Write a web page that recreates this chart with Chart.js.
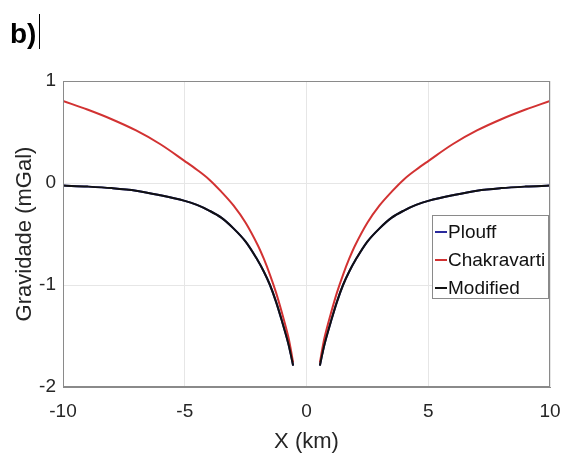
<!DOCTYPE html>
<html>
<head>
<meta charset="utf-8">
<script src="https://cdn.jsdelivr.net/npm/chart.js@4.4.1/dist/chart.umd.min.js"></script>
<style>
  html, body { margin: 0; padding: 0; background: #fff; }
  #wrap { width: 564px; height: 459px; position: relative; }
</style>
</head>
<body>
<div id="wrap"><canvas id="gravChart"></canvas></div>
<script>
// X positions (km); null value at 0 breaks the curves
const xKm = [-10, -9, -8, -7, -6, -5, -4.5, -4, -3.5, -3, -2.5, -2, -1.75, -1.5, -1.25, -1, -0.75, -0.65, -0.55,
             0,
             0.55, 0.65, 0.75, 1, 1.25, 1.5, 1.75, 2, 2.5, 3, 3.5, 4, 4.5, 5, 6, 7, 8, 9, 10];

const chakravarti = [0.805, 0.72, 0.625, 0.515, 0.38, 0.215, 0.13, 0.035, -0.085, -0.22, -0.39, -0.61, -0.745, -0.90, -1.075, -1.28, -1.505, -1.625, -1.76,
                     null,
                     -1.76, -1.625, -1.505, -1.28, -1.075, -0.90, -0.745, -0.61, -0.39, -0.22, -0.085, 0.035, 0.13, 0.215, 0.38, 0.515, 0.625, 0.72, 0.805];

const modified = [-0.025, -0.035, -0.05, -0.075, -0.12, -0.175, -0.215, -0.27, -0.34, -0.445, -0.575, -0.76, -0.87, -1.00, -1.165, -1.36, -1.57, -1.675, -1.79,
                  null,
                  -1.79, -1.675, -1.57, -1.36, -1.165, -1.00, -0.87, -0.76, -0.575, -0.445, -0.34, -0.27, -0.215, -0.175, -0.12, -0.075, -0.05, -0.035, -0.025];

// Plouff lies under the Modified curve
const plouff = modified.slice();

const xTicks = [-10, -5, 0, 5, 10];
const yTicks = [-2, -1, 0, 1];

function pts(vals) {
    return xKm.map((x, i) => ({ x: x, y: vals[i] }));
}

const legendItems = [
    { label: 'Plouff', color: '#2a2a9c' },
    { label: 'Chakravarti', color: '#d23232' },
    { label: 'Modified', color: '#111111' }
];

const extras = {
    id: 'extras',
    afterDraw(chart) {
        const ctx = chart.ctx;
        const a = chart.chartArea;
        ctx.save();
        // box around axes
        ctx.strokeStyle = '#8a8a8a';
        ctx.lineWidth = 1;
        ctx.strokeRect(a.left + 0.5, a.top + 0.5, a.right - a.left - 1, a.bottom - a.top - 1);

        // legend
        const lx = 432, ly = 215, lw = 116, lh = 83;
        ctx.fillStyle = '#fff';
        ctx.fillRect(lx, ly, lw, lh);
        ctx.strokeStyle = '#8a8a8a';
        ctx.strokeRect(lx + 0.5, ly + 0.5, lw, lh);
        ctx.font = '19px "Liberation Sans", Arial, sans-serif';
        ctx.textBaseline = 'middle';
        legendItems.forEach((it, i) => {
            const y = 232 + i * 28;
            ctx.strokeStyle = it.color;
            ctx.lineWidth = 2;
            ctx.beginPath();
            ctx.moveTo(435, y);
            ctx.lineTo(447, y);
            ctx.stroke();
            ctx.fillStyle = '#111';
            ctx.fillText(it.label, 448, y + 1);
        });

        // panel label
        ctx.fillStyle = '#000';
        ctx.font = 'bold 28px "Liberation Sans", Arial, sans-serif';
        ctx.textBaseline = 'alphabetic';
        ctx.fillText('b)', 10, 43);
        ctx.strokeStyle = '#000';
        ctx.lineWidth = 1;
        ctx.beginPath();
        ctx.moveTo(39.5, 14);
        ctx.lineTo(39.5, 49);
        ctx.stroke();
        ctx.restore();
    }
};

const ctx1 = document.getElementById('gravChart').getContext('2d');
const gravChart = new Chart(ctx1, {
    type: 'line',
    data: {
        datasets: [{
            label: 'Plouff',
            data: pts(plouff),
            borderColor: '#2a2a9c',
            borderWidth: 2,
            order: 3
        }, {
            label: 'Chakravarti',
            data: pts(chakravarti),
            borderColor: '#d23232',
            borderWidth: 2,
            order: 2
        }, {
            label: 'Modified',
            data: pts(modified),
            borderColor: '#111111',
            borderWidth: 2,
            order: 1
        }]
    },
    options: {
        responsive: true,
        maintainAspectRatio: false,
        animation: false,
        spanGaps: false,
        elements: {
            point: { radius: 0 },
            line: { tension: 0.35, fill: false, borderJoinStyle: 'round' }
        },
        layout: { padding: { top: 81, right: 14, left: 0, bottom: 0 } },
        plugins: {
            legend: { display: false },
            tooltip: { enabled: false }
        },
        scales: {
            x: {
                type: 'linear',
                min: -10,
                max: 10,
                afterBuildTicks: (s) => { s.ticks = xTicks.map(v => ({ value: v })); },
                afterFit: (s) => { s.height = 72; s.paddingLeft = 0; s.paddingRight = 0; },
                grid: { color: '#e6e6e6', drawTicks: false },
                border: { color: '#8a8a8a' },
                ticks: {
                    padding: 13,
                    color: '#262626',
                    font: { family: '"Liberation Sans", Arial, sans-serif', size: 19 }
                },
                title: {
                    display: true,
                    text: 'X (km)',
                    color: '#262626',
                    padding: { top: 2 },
                    font: { family: '"Liberation Sans", Arial, sans-serif', size: 22 }
                }
            },
            y: {
                min: -2,
                max: 1,
                afterBuildTicks: (s) => { s.ticks = yTicks.map(v => ({ value: v })); },
                afterFit: (s) => { s.width = 63; s.paddingTop = 0; s.paddingBottom = 0; },
                grid: { color: '#e6e6e6', drawTicks: false },
                border: { color: '#8a8a8a' },
                ticks: {
                    padding: 7,
                    color: '#262626',
                    font: { family: '"Liberation Sans", Arial, sans-serif', size: 19 }
                },
                title: {
                    display: true,
                    text: 'Gravidade (mGal)',
                    color: '#262626',
                    padding: { top: 12, bottom: 0 },
                    font: { family: '"Liberation Sans", Arial, sans-serif', size: 22 }
                }
            }
        }
    },
    plugins: [extras]
});
</script>
</body>
</html>
